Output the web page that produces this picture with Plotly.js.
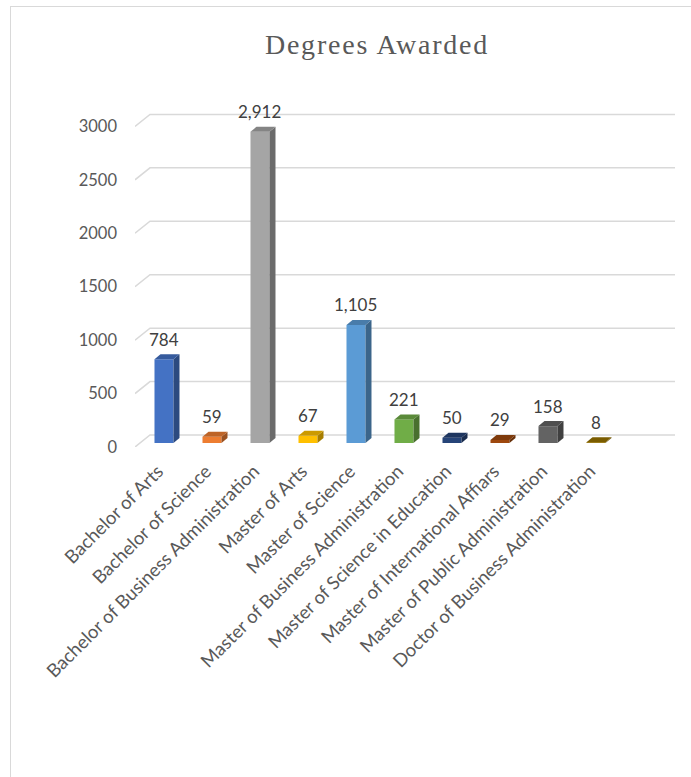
<!DOCTYPE html>
<html>
<head>
<meta charset="utf-8">
<script src="https://cdn.plot.ly/plotly-3.0.1.min.js"></script>
<style>
  html, body { margin: 0; padding: 0; background: #ffffff; }
  #chart { width: 691px; height: 777px; position: absolute; left: 0; top: 0; }
  #frame { position: absolute; left: 10px; top: 6px; width: 720px; height: 820px;
           border: 1.5px solid #D9D9D9; pointer-events: none; }
  .gtitle { letter-spacing: 1.8px; }
</style>
</head>
<body>
<div id="chart"></div>
<div id="frame"></div>
<script>
// ---- data ----
const categories = [
  "Bachelor of Arts",
  "Bachelor of Science",
  "Bachelor of Business Administration",
  "Master of Arts",
  "Master of Science",
  "Master of Business Administration",
  "Master of Science in Education",
  "Master of International Affiars",
  "Master of Public Administration",
  "Doctor of Business Administration"
];
const degrees = [784, 59, 2912, 67, 1105, 221, 50, 29, 158, 8];
const barColors = ["#4472C4", "#ED7D31", "#A5A5A5", "#FFC000", "#5B9BD5",
                   "#70AD47", "#264478", "#9E480E", "#636363", "#997300"];
const yTicks = [0, 500, 1000, 1500, 2000, 2500, 3000];
const chartTitle = "Degrees Awarded";

// ---- style constants (pixel geometry of the pseudo-3D look) ----
const K = 0.107;              // px per value unit
const PXU = 48;               // px per category
const BAR_W = 19 / PXU;
const BASE = 4 / K;           // bar plane sits a little behind the front edge
const DDX = 6 / PXU, DDY = 5 / K;       // bar depth
const GDX = 15 / PXU, GDY = 12 / K;     // floor depth (back wall gridlines)
const X0 = -0.604, X1 = 10.646;
const YMAX = 3200;

function shade(hex, f) {
  const n = parseInt(hex.slice(1), 16);
  const r = Math.round(((n >> 16) & 255) * f);
  const g = Math.round(((n >> 8) & 255) * f);
  const b = Math.round((n & 255) * f);
  return "rgb(" + r + "," + g + "," + b + ")";
}

const traces = [];
const idx = categories.map((c, i) => i);

// side and top faces
idx.forEach(i => {
  const v = degrees[i];
  const xl = i - BAR_W / 2, xr = i + BAR_W / 2;
  const yb = BASE, yt = BASE + v;
  traces.push({
    type: "scatter", mode: "lines", fill: "toself", hoverinfo: "skip", showlegend: false,
    x: [xr, xr, xr + DDX, xr + DDX, xr],
    y: [yb, yt, yt + DDY, yb + DDY, yb],
    fillcolor: shade(barColors[i], 0.65), line: { width: 0, color: "rgba(0,0,0,0)" }
  });
  traces.push({
    type: "scatter", mode: "lines", fill: "toself", hoverinfo: "skip", showlegend: false,
    x: [xl, xr, xr + DDX, xl + DDX, xl],
    y: [yt, yt, yt + DDY, yt + DDY, yt],
    fillcolor: shade(barColors[i], 0.8), line: { width: 0, color: "rgba(0,0,0,0)" }
  });
});

// front faces
traces.push({
  type: "bar",
  x: idx,
  y: degrees,
  base: BASE,
  width: BAR_W,
  marker: { color: barColors, line: { width: 0 } },
  showlegend: false,
  hovertext: categories,
  hoverinfo: "text+y"
});

// back gridlines with diagonal floor edge (drawn below the traces)
const shapes = yTicks.map(v => ({
  type: "path", xref: "x", yref: "y", layer: "below",
  path: "M" + X0 + "," + v + " L" + (X0 + GDX) + "," + (v + GDY) + " L" + X1 + "," + (v + GDY),
  line: { color: "#D9D9D9", width: 1.5 }
}));

const annotations = idx.map(i => ({
  x: i, y: BASE + degrees[i], xref: "x", yref: "y",
  text: degrees[i].toLocaleString("en-US"),
  showarrow: false, yanchor: "middle", yshift: 20,
  font: { family: "Lato, 'Open Sans', sans-serif", size: 17, color: "#404040" }
}));

const layout = {
  width: 691, height: 777,
  paper_bgcolor: "rgba(0,0,0,0)",
  plot_bgcolor: "rgba(0,0,0,0)",
  margin: { l: 135, r: 16, t: 447 - YMAX * K, b: 330, pad: 0 },
  showlegend: false,
  title: {
    text: chartTitle,
    x: 377 / 691, xanchor: "center", xref: "container",
    y: 1 - 44 / 777, yanchor: "middle", yref: "container",
    font: { family: "'Liberation Serif', 'Times New Roman', serif", size: 28, color: "#595959" }
  },
  xaxis: {
    range: [X0, X1],
    tickvals: idx, ticktext: categories,
    tickangle: -45,
    showgrid: false, zeroline: false, showline: false, ticks: "",
    ticklabelstandoff: 9,
    ticklabelshift: -6,
    tickfont: { family: "Lato, 'Open Sans', sans-serif", size: 18.5, color: "#595959" },
    fixedrange: true
  },
  yaxis: {
    range: [0, YMAX],
    tickvals: yTicks,
    showgrid: false, zeroline: false, showline: false, ticks: "",
    ticklabelstandoff: 17,
    tickfont: { family: "Lato, 'Open Sans', sans-serif", size: 16.5, color: "#595959" },
    fixedrange: true
  },
  shapes: shapes,
  annotations: annotations
};

Plotly.newPlot("chart", traces, layout, { displayModeBar: false, staticPlot: true });
</script>
</body>
</html>
